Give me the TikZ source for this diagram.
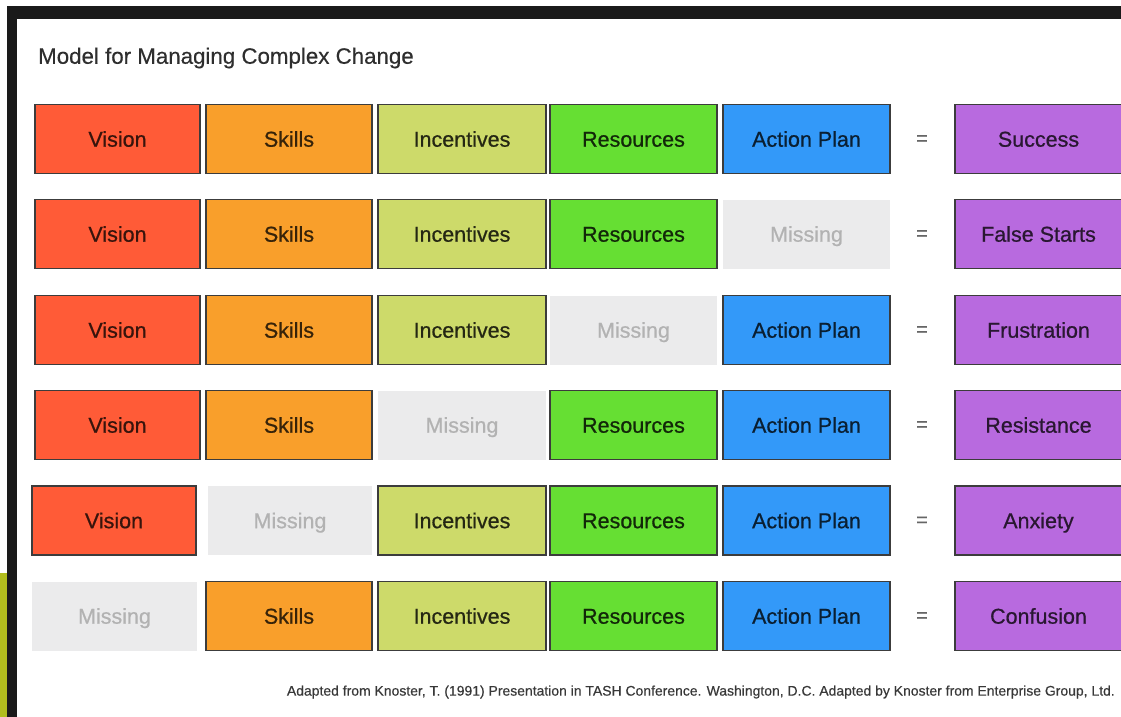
\documentclass[tikz,border=0pt]{standalone}
\usepackage{fontspec}
\setmainfont{Liberation Sans}
% slightly emboldened faces for the labels
\newfontfamily\heavy{Liberation Sans}[FakeBold=0.7]
\newfontfamily\medium{Liberation Sans}[FakeBold=0.35]
\definecolor{cvision}{HTML}{FF5B37}
\definecolor{cskills}{HTML}{F99F2B}
\definecolor{cincent}{HTML}{CDDA6A}
\definecolor{cres}{HTML}{66DF33}
\definecolor{cplan}{HTML}{3399F9}
\definecolor{cout}{HTML}{B86ADF}
\definecolor{cmiss}{HTML}{EBEBEC}
\definecolor{cedge}{HTML}{3C3C3C}
\definecolor{cframe}{HTML}{1A1A1A}
\definecolor{colive}{HTML}{B2BE1E}
\tikzset{
  cell/.style={rectangle, draw=cedge, line width=1.3pt, minimum height=69pt,
    minimum width=166pt, inner sep=0pt, anchor=center,
    text height=19.4pt, text depth=4pt,
    font=\heavy\fontsize{21.5}{24}\selectfont},
  vision/.style={cell, fill=cvision, text=cvision!22!black},
  skills/.style={cell, fill=cskills, text=cskills!22!black},
  incent/.style={cell, fill=cincent, text=cincent!18!black},
  resrc/.style={cell, fill=cres, text=cres!18!black},
  plan/.style={cell, fill=cplan, text=cplan!20!black},
  result/.style={cell, fill=cout, text=cout!22!black},
  missing/.style={cell, draw=none, fill=cmiss, text=black!30},
  equals/.style={font=\heavy\fontsize{20}{24}\selectfont, text=black!60, inner sep=0pt},
}
\begin{document}
\begin{tikzpicture}[x=1pt,y=-1pt]
\useasboundingbox (0,0) rectangle (1121,717);
\clip (0,0) rectangle (1121,717);
\fill[white] (0,0) rectangle (1121,717);
% screen edges
\fill[cframe] (7,6) rectangle (1121,19);
\fill[cframe] (7,6) rectangle (17,717);
\fill[colive] (0,573) rectangle (7,717);

\node[anchor=west, font=\medium\fontsize{22.3}{26}\selectfont, text=black!82, inner sep=0pt] (title) at (38,58) {Model for Managing Complex Change};

% row 1
\node[vision, minimum width=165pt] (r1c1) at (117.5,139) {Vision};
\node[skills] (r1c2) at (289,139) {Skills};
\node[incent, minimum width=168pt] (r1c3) at (462,139) {Incentives};
\node[resrc, minimum width=167pt] (r1c4) at (633.5,139) {Resources};
\node[plan, minimum width=167pt] (r1c5) at (806.5,139) {Action Plan};
\node[equals] (r1eq) at (922,140) {=};
\node[result, minimum width=167pt] (r1c6) at (1038.5,139) {Success};

% row 2
\node[vision, minimum width=165pt] (r2c1) at (117.5,234) {Vision};
\node[skills] (r2c2) at (289,234) {Skills};
\node[incent, minimum width=168pt] (r2c3) at (462,234) {Incentives};
\node[resrc, minimum width=167pt] (r2c4) at (633.5,234) {Resources};
\node[missing, minimum width=167pt] (r2c5) at (806.5,234) {Missing};
\node[equals] (r2eq) at (922,235) {=};
\node[result, minimum width=167pt] (r2c6) at (1038.5,234) {False Starts};

% row 3
\node[vision, minimum width=165pt] (r3c1) at (117.5,330) {Vision};
\node[skills] (r3c2) at (289,330) {Skills};
\node[incent, minimum width=168pt] (r3c3) at (462,330) {Incentives};
\node[missing, minimum width=167pt] (r3c4) at (633.5,330) {Missing};
\node[plan, minimum width=167pt] (r3c5) at (806.5,330) {Action Plan};
\node[equals] (r3eq) at (922,331) {=};
\node[result, minimum width=167pt] (r3c6) at (1038.5,330) {Frustration};

% row 4
\node[vision, minimum width=165pt] (r4c1) at (117.5,425) {Vision};
\node[skills] (r4c2) at (289,425) {Skills};
\node[missing, minimum width=168pt] (r4c3) at (462,425) {Missing};
\node[resrc, minimum width=167pt] (r4c4) at (633.5,425) {Resources};
\node[plan, minimum width=167pt] (r4c5) at (806.5,425) {Action Plan};
\node[equals] (r4eq) at (922,426) {=};
\node[result, minimum width=167pt] (r4c6) at (1038.5,425) {Resistance};

% row 5
\node[vision, minimum width=164pt] (r5c1) at (114,520.5) {Vision};
\node[missing, minimum width=164pt] (r5c2) at (290,520.5) {Missing};
\node[incent, minimum width=168pt] (r5c3) at (462,520.5) {Incentives};
\node[resrc, minimum width=167pt] (r5c4) at (633.5,520.5) {Resources};
\node[plan, minimum width=167pt] (r5c5) at (806.5,520.5) {Action Plan};
\node[equals] (r5eq) at (922,521.5) {=};
\node[result, minimum width=167pt] (r5c6) at (1038.5,520.5) {Anxiety};

% row 6
\node[missing, minimum width=165pt] (r6c1) at (114.5,616) {Missing};
\node[skills] (r6c2) at (289,616) {Skills};
\node[incent, minimum width=168pt] (r6c3) at (462,616) {Incentives};
\node[resrc, minimum width=167pt] (r6c4) at (633.5,616) {Resources};
\node[plan, minimum width=167pt] (r6c5) at (806.5,616) {Action Plan};
\node[equals] (r6eq) at (922,617) {=};
\node[result, minimum width=167pt] (r6c6) at (1038.5,616) {Confusion};

\node[anchor=east, font=\medium\fontsize{13.95}{16}\selectfont, text=black!78, inner sep=0pt] (source) at (1115,692)
  {Adapted from Knoster, T. (1991) Presentation in TASH Conference. Washington, D.C. Adapted by Knoster from Enterprise Group, Ltd.};
\end{tikzpicture}
\end{document}
